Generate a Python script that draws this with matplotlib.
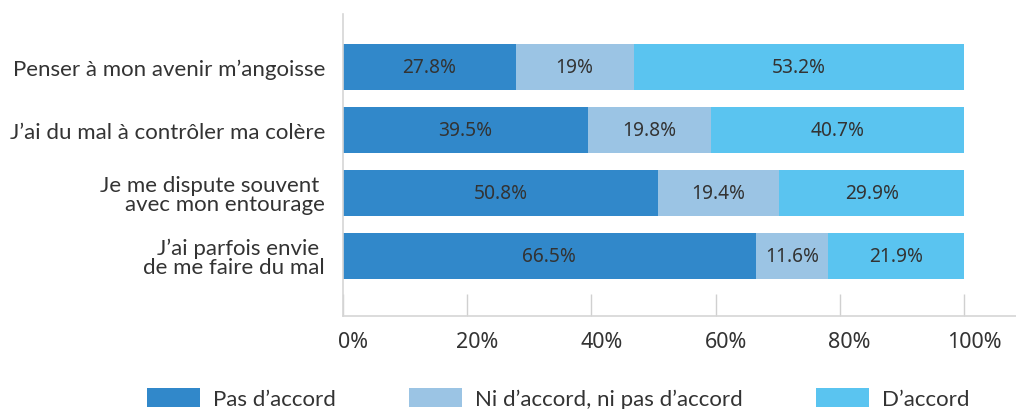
import matplotlib.pyplot as plt
import matplotlib.transforms as mtransforms
import numpy as np

# Data
categories = [
    "Penser à mon avenir m\u2019angoisse",
    "J\u2019ai du mal à contrôler ma colère",
    "Je me dispute souvent \navec mon entourage",
    "J\u2019ai parfois envie \nde me faire du mal",
]
pas_accord = [27.8, 39.5, 50.8, 66.5]
ni_accord = [19.0, 19.8, 19.4, 11.6]
accord = [53.2, 40.7, 29.9, 21.9]
value_labels = [
    ["27.8%", "39.5%", "50.8%", "66.5%"],
    ["19%", "19.8%", "19.4%", "11.6%"],
    ["53.2%", "40.7%", "29.9%", "21.9%"],
]
series_names = ["Pas d\u2019accord", "Ni d\u2019accord, ni pas d\u2019accord", "D\u2019accord"]
colors = ["#3188CA", "#9BC4E4", "#5AC4F0"]
xticks = [0, 20, 40, 60, 80, 100]

text_color = "#333333"
label_font = ["Lato", "DejaVu Sans"]
value_font = ["Noto Sans", "DejaVu Sans"]

fig = plt.figure(figsize=(10.16, 4.10), dpi=100)
ax = fig.add_axes([343 / 1016, 1 - 317 / 410, 1 - 343 / 1016, 302 / 410])

y = np.arange(len(categories))
left = np.zeros(len(categories))
handles = []
for vals, lbls, col, name in zip([pas_accord, ni_accord, accord], value_labels, colors, series_names):
    bars = ax.barh(y, vals, left=left, height=0.73, color=col, label=name)
    handles.append(bars)
    for yi, (l, v, t) in enumerate(zip(left, vals, lbls)):
        ax.text(l + v / 2, yi, t, ha="center", va="center", fontsize=13.8,
                color=text_color, family=value_font)
    left = left + np.array(vals)

ax.set_ylim(3.95, -0.84)
ax.set_xlim(0, 108.4)

ax.set_yticks(y)
ax.set_yticklabels(categories, fontsize=16, color=text_color, family=label_font,
                   linespacing=0.95)
ax.tick_params(axis="y", length=0, pad=13)

ax.set_xticks(xticks)
ax.set_xticklabels([f"{t}%" for t in xticks], fontsize=15.5, color=text_color, family=value_font)
ax.tick_params(axis="x", direction="in", length=16, color="#D0D0D0", width=1, pad=11)
# tick labels sit a little right of their ticks in the original
shift = mtransforms.ScaledTranslation(10 / 100, 0, fig.dpi_scale_trans)
for lab in ax.get_xticklabels():
    lab.set_transform(lab.get_transform() + shift)

for side in ["top", "right"]:
    ax.spines[side].set_visible(False)
for side in ["left", "bottom"]:
    ax.spines[side].set_color("#D6D6D6")
    ax.spines[side].set_linewidth(1.2)

fig.legend(handles=handles, labels=series_names, loc="upper left",
           bbox_to_anchor=(147 / 1016, 1 - 389 / 410), ncol=3, frameon=False,
           handlelength=2.37, handleheight=0.93, handletextpad=0.6,
           columnspacing=3.3, borderpad=0, borderaxespad=0,
           prop={"family": label_font, "size": 16}, labelcolor=text_color)

fig.savefig("out.png", dpi=100, facecolor="white")
